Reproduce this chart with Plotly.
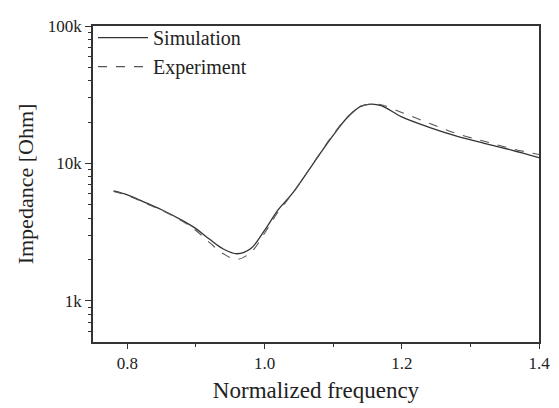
import plotly.graph_objects as go

freq = [0.78, 0.80, 0.82, 0.85, 0.88, 0.90, 0.92, 0.94, 0.96, 0.98, 1.00, 1.02,
        1.04, 1.06, 1.08, 1.10, 1.12, 1.14, 1.155, 1.17, 1.20, 1.24, 1.28, 1.32,
        1.36, 1.40]
simulation = [6300, 5900, 5350, 4600, 3850, 3350, 2800, 2380, 2200, 2400, 3250, 4600,
              6000, 8300, 11600, 16000, 21400, 26000, 27000, 26300, 21800, 18300,
              15800, 14000, 12500, 11000]
experiment = [6250, 5850, 5300, 4550, 3800, 3250, 2650, 2200, 2000, 2250, 3100, 4450,
              5950, 8300, 11700, 16200, 21600, 26000, 27000, 26700, 23500, 19600,
              16500, 14500, 12800, 11600]

y_tickvals = [1000, 10000, 100000]
y_ticktext = ["1k", "10k", "100k"]
y_minor = [m * d for d in (100, 1000, 10000) for m in range(2, 10)]
x_tickvals = [0.8, 1.0, 1.2, 1.4]
x_ticktext = ["0.8", "1.0", "1.2", "1.4"]
x_minor = [0.9, 1.1, 1.3]

fig = go.Figure()
fig.add_trace(go.Scatter(x=freq, y=simulation, mode="lines", name="Simulation",
                         line=dict(color="#333333", width=1.3, shape="spline")))
fig.add_trace(go.Scatter(x=freq, y=experiment, mode="lines", name="Experiment",
                         line=dict(color="#555555", width=1.1, dash="dash", shape="spline")))

font = "Liberation Serif, Times New Roman, serif"
fig.update_layout(
    width=551, height=400,
    margin=dict(l=85, r=20, t=9, b=63),
    paper_bgcolor="white", plot_bgcolor="white",
    font=dict(family=font, color="#222222", size=17),
    showlegend=True,
    legend=dict(x=0.0, y=1.025, xanchor="left", yanchor="top",
                bgcolor="rgba(0,0,0,0)", font=dict(size=20, family=font),
                itemwidth=50, tracegroupgap=0),
    xaxis=dict(range=[0.75, 1.4], tickvals=x_tickvals, ticktext=x_ticktext,
               ticks="outside", ticklen=5, tickwidth=1.3, tickcolor="#333",
               showline=True, linecolor="#333", linewidth=1.5, mirror=True,
               showgrid=False, zeroline=False,
               minor=dict(tickvals=x_minor, ticks="outside", ticklen=3,
                          tickcolor="#333", showgrid=False),
               title=dict(text="Normalized frequency", font=dict(size=23, family=font),
                          standoff=10),
               tickfont=dict(size=17, family=font)),
    yaxis=dict(type="log", range=[2.7, 5.0], tickvals=y_tickvals, ticktext=y_ticktext,
               ticks="outside", ticklen=6, tickwidth=1.3, tickcolor="#333",
               showline=True, linecolor="#333", linewidth=1.5, mirror=True,
               showgrid=False, zeroline=False,
               minor=dict(tickvals=y_minor, ticks="outside", ticklen=3,
                          tickcolor="#333", showgrid=False),
               title=dict(text="Impedance [Ohm]", font=dict(size=22, family=font),
                          standoff=8),
               tickfont=dict(size=17, family=font)),
)

fig.write_html("out.html")
